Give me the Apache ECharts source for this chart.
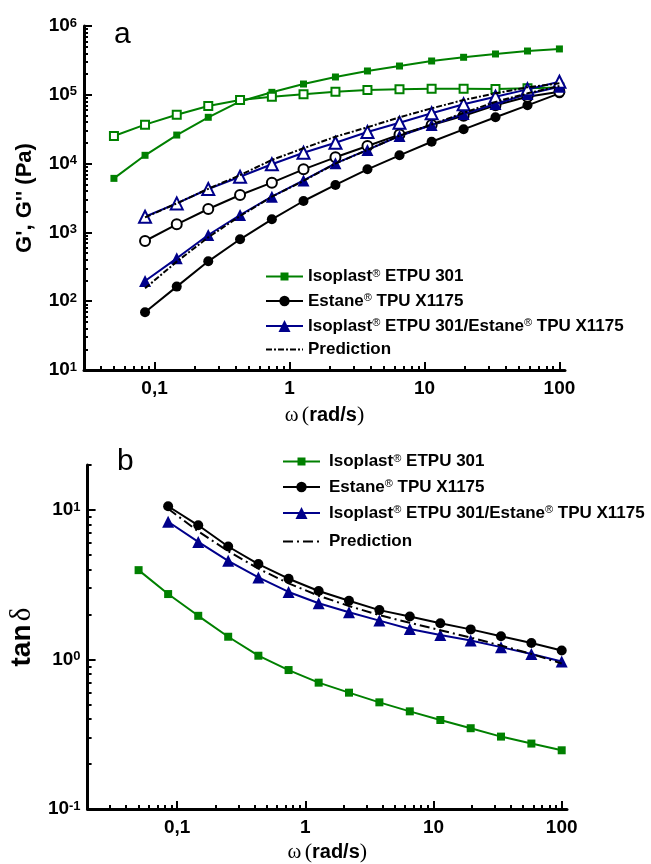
<!DOCTYPE html>
<html>
<head>
<meta charset="utf-8">
<script src="https://cdn.jsdelivr.net/npm/echarts@6/dist/echarts.min.js"></script>
<style>
  html, body { margin: 0; padding: 0; background: #fff; }
  #chart { width: 651px; height: 864px; }
</style>
</head>
<body>
<div id="chart"></div>
<script>
// Angular frequency (rad/s)
const omega = [0.05, 0.085, 0.146, 0.25, 0.43, 0.74, 1.27, 2.19, 3.78, 6.53, 11.3, 19.5, 33.6, 58, 100];
const omegaTpu = [0.085, 0.146, 0.25, 0.43, 0.74, 1.27, 2.19, 3.78, 6.53, 11.3, 19.5, 33.6, 58, 100];

// (a) storage G' and loss G'' moduli, Pa
const isoplastG1 = [6100, 13200, 26000, 47100, 80000, 108600, 143500, 181500, 222000, 262000, 310000, 351000, 392000, 433000, 464000];
const isoplastG2 = [25200, 36800, 51400, 68700, 84000, 93900, 101600, 111000, 117500, 120000, 122700, 122700, 121000, 124000, 128000];
const estaneG1 = [69, 163, 380, 794, 1550, 2860, 4890, 8260, 13200, 20800, 31500, 47100, 70300, 105000];
const estaneG2 = [750, 1310, 2190, 3500, 5280, 8260, 12340, 18000, 26400, 36400, 49700, 70300, 93900, 111000];
const blendG1 = [197, 420, 916, 1790, 3300, 5700, 10100, 15800, 25200, 36400, 52600, 73500, 102800, 131000];
const blendG2 = [1690, 2640, 4270, 6450, 9770, 14400, 20100, 28800, 39300, 53900, 72700, 93900, 120000, 155000];
const predictionG1 = [154, 376, 848, 1730, 3300, 5600, 10000, 15800, 25500, 37000, 54500, 79000, 105000, 134000];
const predictionG2 = [1650, 2640, 4300, 6800, 11300, 16700, 24600, 33700, 47100, 63600, 84000, 105000, 128500, 147000];

// (b) loss tangent
const isoplastTan = [3.96, 2.74, 1.96, 1.42, 1.06, 0.85, 0.70, 0.60, 0.517, 0.45, 0.394, 0.347, 0.305, 0.274, 0.247];
const estaneTan = [10.6, 7.9, 5.7, 4.35, 3.47, 2.87, 2.47, 2.14, 1.94, 1.75, 1.59, 1.43, 1.29, 1.15];
const blendTan = [8.35, 6.12, 4.57, 3.54, 2.83, 2.38, 2.07, 1.82, 1.60, 1.46, 1.34, 1.21, 1.09, 0.97];
const predictionTan = [10.2, 7.2, 5.3, 4.05, 3.23, 2.67, 2.28, 1.98, 1.76, 1.57, 1.40, 1.24, 1.09, 0.94];

// Axis ticks and labels
const xMajor = [0.1, 1, 10, 100];
const xTickLabels = ['0,1', '1', '10', '100'];
const xMinorTop = [0.04, 0.05, 0.06, 0.07, 0.08, 0.09, 0.2, 0.3, 0.4, 0.5, 0.6, 0.7, 0.8, 0.9, 2, 3, 4, 5, 6, 7, 8, 9, 20, 30, 40, 50, 60, 70, 80, 90];
const xMinorBottom = [0.03].concat(xMinorTop);
const yMajorTop = [10, 100, 1000, 10000, 100000, 1000000];
const yMinorTop = [20, 30, 40, 50, 60, 70, 80, 90, 200, 300, 400, 500, 600, 700, 800, 900,
  2000, 3000, 4000, 5000, 6000, 7000, 8000, 9000, 20000, 30000, 40000, 50000, 60000, 70000, 80000, 90000,
  200000, 300000, 400000, 500000, 600000, 700000, 800000, 900000];
const yMajorBottom = [0.1, 1, 10];
const yMinorBottom = [0.2, 0.3, 0.4, 0.5, 0.6, 0.7, 0.8, 0.9, 2, 3, 4, 5, 6, 7, 8, 9, 20];

const legendNames = ['Isoplast® ETPU 301', 'Estane® TPU X1175', 'Isoplast® ETPU 301/Estane® TPU X1175', 'Prediction'];

const GREEN = '#008000';
const NAVY = '#00008b';
const BLACK = '#000000';
const SANS = 'Liberation Sans, Arial, sans-serif';
const SERIF = 'Liberation Serif, Times New Roman, serif';

const pairs = (xs, ys) => ys.map((y, i) => [xs[i], y]);

function lineSeries(name, xs, ys, axis, symbol, size, color, opts) {
  opts = opts || {};
  const empty = symbol.indexOf('empty') === 0;
  return {
    type: 'line',
    name: name,
    xAxisIndex: axis,
    yAxisIndex: axis,
    data: pairs(xs, ys),
    symbol: symbol,
    symbolSize: size,
    showAllSymbol: true,
    lineStyle: { color: color, width: 2, type: opts.dash || 'solid' },
    itemStyle: empty
      ? { color: color, borderColor: color, borderWidth: 2 }
      : { color: color, borderWidth: 0 },
    z: opts.z || 2,
    silent: true
  };
}

function xLabel(v) {
  let best = 0;
  xMajor.forEach((m, i) => { if (Math.abs(Math.log10(v) - Math.log10(m)) < Math.abs(Math.log10(v) - Math.log10(xMajor[best]))) best = i; });
  return xTickLabels[best];
}
function yLabel(v) {
  return '{b|10}{e|' + Math.round(Math.log10(v)) + '}';
}

const tickFont = { fontFamily: SANS, fontSize: 19, fontWeight: 'bold', color: BLACK };
const yRich = {
  b: { fontFamily: SANS, fontSize: 19, fontWeight: 'bold', color: BLACK },
  e: { fontFamily: SANS, fontSize: 13, fontWeight: 'bold', color: BLACK, verticalAlign: 'top' }
};

function mainX(grid, min, max, nameGap) {
  return {
    type: 'log', gridIndex: grid, position: 'bottom', min: min, max: max,
    axisLine: { show: true, lineStyle: { color: BLACK, width: 3 } },
    axisTick: { show: true, inside: true, length: 8, lineStyle: { color: BLACK, width: 2 }, customValues: xMajor },
    axisLabel: { show: true, margin: 9, formatter: xLabel, customValues: xMajor, ...tickFont },
    splitLine: { show: false }, minorTick: { show: false },
    name: '{w|ω} {p|(}{r|rad/s}{p|)}', nameLocation: 'middle', nameGap: nameGap,
    nameTextStyle: {
      rich: {
        w: { fontFamily: SERIF, fontSize: 21, color: BLACK },
        p: { fontFamily: SERIF, fontSize: 22, color: BLACK },
        r: { fontFamily: SANS, fontSize: 20, fontWeight: 'bold', color: BLACK }
      }
    }
  };
}
function minorX(grid, min, max, ticks) {
  return {
    type: 'log', gridIndex: grid, position: 'bottom', min: min, max: max,
    axisLine: { show: false },
    axisTick: { show: true, inside: true, length: 4, lineStyle: { color: BLACK, width: 2 }, customValues: ticks },
    axisLabel: { show: false },
    splitLine: { show: false }
  };
}
function mainY(grid, min, max, major, name, rich, nameGap) {
  return {
    type: 'log', gridIndex: grid, position: 'left', min: min, max: max,
    axisLine: { show: true, lineStyle: { color: BLACK, width: 3 } },
    axisTick: { show: true, inside: true, length: 8, lineStyle: { color: BLACK, width: 2 }, customValues: major },
    axisLabel: { show: true, margin: 7, formatter: yLabel, customValues: major, rich: yRich },
    splitLine: { show: false },
    name: name, nameLocation: 'middle', nameGap: nameGap,
    nameTextStyle: { rich: rich }
  };
}
function minorY(grid, min, max, ticks) {
  return {
    type: 'log', gridIndex: grid, position: 'left', min: min, max: max,
    axisLine: { show: false },
    axisTick: { show: true, inside: true, length: 4, lineStyle: { color: BLACK, width: 2 }, customValues: ticks },
    axisLabel: { show: false },
    splitLine: { show: false }
  };
}

const legendRich = {
  t: { fontFamily: SANS, fontSize: 17, fontWeight: 'bold', color: BLACK },
  g: { width: 4 },
  r: { fontFamily: SANS, fontSize: 11, color: BLACK, verticalAlign: 'top' }
};
function legendText(name, lead) {
  const parts = name.split('®');
  return (lead ? '{g|}' : '') + parts.map(p => p ? '{t|' + p + '}' : '').join('{r|®}');
}
function legendItem(name, left, centerY, itemHeight, lead, dash) {
  const l = {
    show: true, data: [name], orient: 'vertical', left: left, top: centerY - itemHeight / 2,
    padding: 0, itemWidth: 37, itemHeight: itemHeight, selectedMode: false,
    formatter: n => legendText(n, lead),
    textStyle: { rich: legendRich }
  };
  if (dash) {
    // line-only key: keep the dash pattern, hide the marker
    l.lineStyle = { type: dash, width: 2, color: BLACK };
    l.itemStyle = { opacity: 0 };
  }
  return l;
}

const option = {
  animation: false,
  backgroundColor: '#fff',
  grid: [
    { left: 84, top: 26, width: 481, height: 344 },
    { left: 84, top: 465, width: 483, height: 344 }
  ],
  xAxis: [
    mainX(0, 0.03, 110, 34),
    minorX(0, 0.03, 110, xMinorTop),
    mainX(1, 0.02, 110, 32),
    minorX(1, 0.02, 110, xMinorBottom)
  ],
  yAxis: [
    mainY(0, 10, 1000000, yMajorTop, "{n|G', G'' (Pa)}",
      { n: { fontFamily: SANS, fontSize: 22, fontWeight: 'bold', color: BLACK } }, 48),
    minorY(0, 10, 1000000, yMinorTop),
    mainY(1, 0.1, 20, yMajorBottom, '{t|tan} {d|δ}',
      { t: { fontFamily: SANS, fontSize: 28, fontWeight: 'bold', color: BLACK },
        d: { fontFamily: SERIF, fontSize: 29, color: BLACK } }, 42),
    minorY(1, 0.1, 20, yMinorBottom)
  ],
  legend: [
    legendItem(legendNames[0], 265, 273, 10, false),
    legendItem(legendNames[1], 265, 299, 13, false),
    legendItem(legendNames[2], 265, 325, 15, false),
    legendItem(legendNames[3], 265, 346, 10, false, [6, 2, 2, 2]),
    legendItem(legendNames[0], 282, 458, 10, true),
    legendItem(legendNames[1], 282, 485, 13, true),
    legendItem(legendNames[2], 282, 512, 15, true),
    legendItem(legendNames[3], 282, 538, 10, true, [10, 4, 2, 4])
  ],
  graphic: [
    { type: 'text', left: 114, top: 20, style: { text: 'a', font: '30px ' + SANS, fill: BLACK } },
    { type: 'text', left: 117, top: 447, style: { text: 'b', font: '30px ' + SANS, fill: BLACK } }
  ],
  series: [
    lineSeries(legendNames[0], omega, isoplastG1, 0, 'rect', 7, GREEN),
    lineSeries(legendNames[0], omega, isoplastG2, 0, 'emptyRect', 8, GREEN),
    lineSeries(legendNames[1], omegaTpu, estaneG1, 0, 'circle', 10, BLACK),
    lineSeries(legendNames[1], omegaTpu, estaneG2, 0, 'emptyCircle', 10, BLACK),
    lineSeries(legendNames[2], omegaTpu, blendG1, 0, 'triangle', 12, NAVY, { z: 3 }),
    lineSeries(legendNames[2], omegaTpu, blendG2, 0, 'emptyTriangle', 12, NAVY, { z: 3 }),
    lineSeries(legendNames[3], omegaTpu, predictionG1, 0, 'none', 0, BLACK, { dash: [6, 2, 2, 2], z: 4 }),
    lineSeries(legendNames[3], omegaTpu, predictionG2, 0, 'none', 0, BLACK, { dash: [6, 2, 2, 2], z: 4 }),

    lineSeries(legendNames[0], omega, isoplastTan, 2, 'rect', 8, GREEN),
    lineSeries(legendNames[1], omegaTpu, estaneTan, 2, 'circle', 10, BLACK),
    lineSeries(legendNames[2], omegaTpu, blendTan, 2, 'triangle', 12, NAVY, { z: 3 }),
    lineSeries(legendNames[3], omegaTpu, predictionTan, 2, 'none', 0, BLACK, { dash: [10, 4, 2, 4], z: 4 })
  ]
};

const chart = echarts.init(document.getElementById('chart'), null, { renderer: 'canvas' });
chart.setOption(option);
</script>
</body>
</html>
